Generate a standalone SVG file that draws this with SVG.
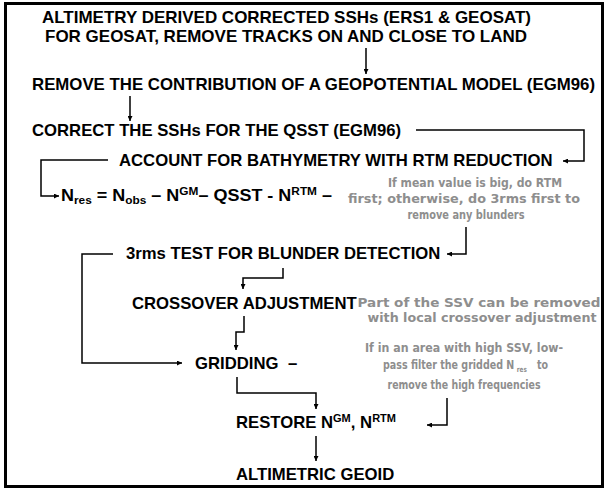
<svg xmlns="http://www.w3.org/2000/svg" width="607" height="490" viewBox="0 0 607 490">
<style>
.t{font-family:"Liberation Sans",Arial,sans-serif;font-weight:bold;font-size:16.7px;fill:#000}
.g{font-family:"Comic Sans MS","DejaVu Sans",sans-serif;font-weight:bold;font-size:12.5px;fill:#8e8e8e;text-anchor:middle}
.s{font-size:11px}
.c{fill:none;stroke:#000;stroke-width:1.5}
</style>
<defs>
<marker id="ah" viewBox="0 0 10 10" refX="10" refY="5" markerWidth="5" markerHeight="5" orient="auto" markerUnits="userSpaceOnUse">
<path d="M0,0 L10,5 L0,10 z" fill="#000"/>
</marker>
</defs>
<rect x="0" y="0" width="607" height="490" fill="#fff"/>
<rect x="5.5" y="3.5" width="597" height="483" fill="none" stroke="#000" stroke-width="3"/>
<g id="n1"><text class="t" x="286.5" y="22.5" text-anchor="middle" textLength="489" lengthAdjust="spacingAndGlyphs">ALTIMETRY DERIVED CORRECTED SSHs (ERS1 &amp; GEOSAT)</text>
<text class="t" x="286" y="41.5" text-anchor="middle" textLength="482" lengthAdjust="spacingAndGlyphs">FOR GEOSAT, REMOVE TRACKS ON AND CLOSE TO LAND</text></g>
<g id="n2"><text class="t" x="32" y="90" textLength="563" lengthAdjust="spacingAndGlyphs">REMOVE THE CONTRIBUTION OF A GEOPOTENTIAL MODEL (EGM96)</text></g>
<g id="n3"><text class="t" x="32" y="136">CORRECT THE SSHs FOR THE QSST (EGM96)</text></g>
<g id="n4"><text class="t" x="119" y="166">ACCOUNT FOR BATHYMETRY WITH RTM REDUCTION</text></g>
<g id="n5"><text class="t" x="61" y="201" textLength="271" lengthAdjust="spacingAndGlyphs">N<tspan class="s" dy="3">res</tspan><tspan dy="-3"> = N</tspan><tspan class="s" dy="3">obs</tspan><tspan dy="-3"> – N</tspan><tspan class="s" dy="-6">GM</tspan><tspan dy="6">– QSST - N</tspan><tspan class="s" dy="-6">RTM</tspan><tspan dy="6">  –</tspan></text></g>
<g id="note1"><text class="g" x="475" y="187" textLength="174" lengthAdjust="spacingAndGlyphs">If mean value is big, do RTM</text>
<text class="g" x="464" y="203" textLength="232" lengthAdjust="spacingAndGlyphs">first; otherwise, do 3rms first to</text>
<text class="g" x="466" y="219" textLength="117" lengthAdjust="spacingAndGlyphs">remove any blunders</text></g>
<g id="n6"><text class="t" x="126" y="259">3rms TEST FOR BLUNDER DETECTION</text></g>
<g id="n7"><text class="t" x="132" y="309">CROSSOVER ADJUSTMENT</text></g>
<g id="note2"><text class="g" x="479" y="307" textLength="243" lengthAdjust="spacingAndGlyphs">Part of the SSV can be removed</text>
<text class="g" x="482" y="322" textLength="229" lengthAdjust="spacingAndGlyphs">with local crossover adjustment</text></g>
<g id="n8"><text class="t" x="195" y="369">GRIDDING</text><text class="t" x="288" y="369">–</text></g>
<g id="note3"><text class="g" x="464" y="352" textLength="198" lengthAdjust="spacingAndGlyphs">If in an area with high SSV, low-</text>
<g transform="translate(383,0) scale(0.762,1)">
<text class="g" x="0" y="369.5" style="text-anchor:start">pass filter the gridded N</text>
<text class="g" x="175.5" y="372" style="text-anchor:start;font-size:7.5px">res</text>
<text class="g" x="202" y="369.5" style="text-anchor:start">to</text>
</g>
<text class="g" x="464" y="389" textLength="153" lengthAdjust="spacingAndGlyphs">remove the high frequencies</text></g>
<g id="n9"><text class="t" x="236" y="428">RESTORE N<tspan class="s" dy="-6">GM</tspan><tspan dy="6">, N</tspan><tspan class="s" dy="-6">RTM</tspan></text></g>
<g id="n10"><text class="t" x="236" y="480">ALTIMETRIC GEOID</text></g>
<g id="connectors">
<path class="c" d="M366,48 V74" marker-end="url(#ah)"/>
<path class="c" d="M130,96 V121" marker-end="url(#ah)"/>
<path class="c" d="M416,130 H584 V161 H563" marker-end="url(#ah)"/>
<path class="c" d="M108,160 H41 V196 H59" marker-end="url(#ah)"/>
<path class="c" d="M466,227 V254 H447" marker-end="url(#ah)"/>
<path class="c" d="M113,254 H82 V363 H182" marker-end="url(#ah)"/>
<path class="c" d="M283,268 V278 H243 V289" marker-end="url(#ah)"/>
<path class="c" d="M244,316 V332 H236 V350" marker-end="url(#ah)"/>
<path class="c" d="M237,377 V393 H316 V409" marker-end="url(#ah)"/>
<path class="c" d="M447,398 V425 H427" marker-end="url(#ah)"/>
<path class="c" d="M316,436 V461" marker-end="url(#ah)"/>
</g>
</svg>
